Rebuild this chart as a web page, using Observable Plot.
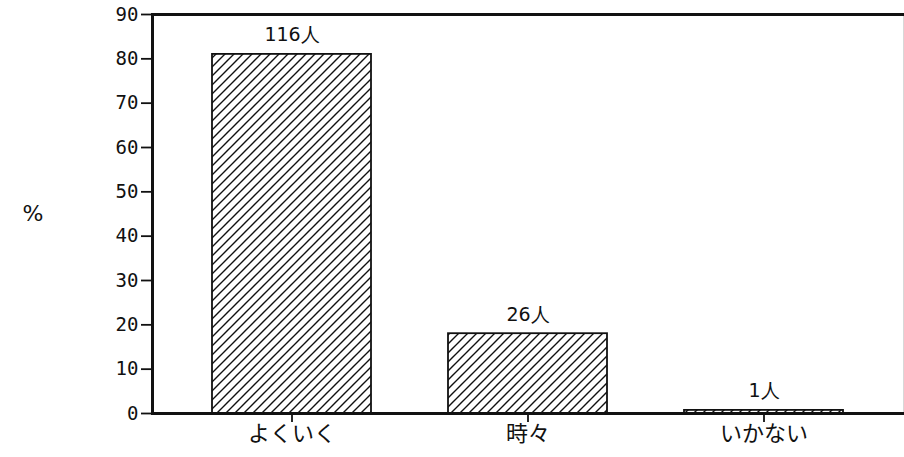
<!DOCTYPE html>
<html><head><meta charset="utf-8">
<script src="https://cdn.jsdelivr.net/npm/d3@7"></script>
<script src="https://cdn.jsdelivr.net/npm/@observablehq/plot@0.6"></script>
<style>body{margin:0;background:#fff}</style>
</head><body><div id="chart"></div>
<script>
const categories = ["よくいく", "時々", "いかない"];
const percents = [81, 18, 0.7];
const countLabels = ["116人", "26人", "1人"];
const yTicks = [0, 10, 20, 30, 40, 50, 60, 70, 80, 90];
const yLabel = "%";

const data = categories.map((c, i) => ({category: c, percent: percents[i], label: countLabels[i]}));

const plot = Plot.plot({
  width: 904,
  height: 457,
  marginLeft: 152,
  marginRight: 1,
  marginTop: 14,
  marginBottom: 44,
  style: {fontFamily: "DejaVu Sans Mono", fontSize: "17px", background: "#fff", color: "#111"},
  x: {domain: categories, paddingInner: 0.325, paddingOuter: 0.247, label: null, axis: null},
  y: {domain: [0, 90], label: null, axis: null},
  marks: [
    Plot.frame({stroke: "#d8d8d8", strokeWidth: 1}),
    Plot.barY(data, {x: "category", y: "percent", fill: "url(#hatch)", stroke: "#111", strokeWidth: 1.8}),
    Plot.text(data, {x: "category", y: "percent", text: "label", dy: -19, fontSize: 19, fontFamily: "DejaVu Sans", fill: "#111"}),
    Plot.axisY({ticks: yTicks, tickSize: 11, tickPadding: 3, fontSize: 19, fontFamily: "DejaVu Sans Mono", label: null, strokeWidth: 1.8}),
    Plot.axisX({tickSize: 9, tickPadding: 3, fontSize: 22, fontFamily: "Noto Sans CJK JP", label: null, strokeWidth: 1.8}),
    Plot.frame({anchor: "left", stroke: "#111", strokeWidth: 3}),
    Plot.frame({anchor: "top", stroke: "#111", strokeWidth: 3}),
    Plot.frame({anchor: "bottom", stroke: "#111", strokeWidth: 3}),
    Plot.text([yLabel], {frameAnchor: "left", dx: -130, fontSize: 22, fontFamily: "DejaVu Sans", fill: "#111"})
  ]
});

const svg = d3.select(plot);
const defs = svg.insert("defs", ":first-child");
const pat = defs.append("pattern")
  .attr("id", "hatch")
  .attr("patternUnits", "userSpaceOnUse")
  .attr("width", 9).attr("height", 9);
pat.append("rect").attr("width", 9).attr("height", 9).attr("fill", "#fff");
pat.append("path")
  .attr("d", "M-1,1 L1,-1 M0,9 L9,0 M8,10 L10,8")
  .attr("stroke", "#111").attr("stroke-width", 1.4);

document.getElementById("chart").appendChild(plot);
</script>
</body></html>
